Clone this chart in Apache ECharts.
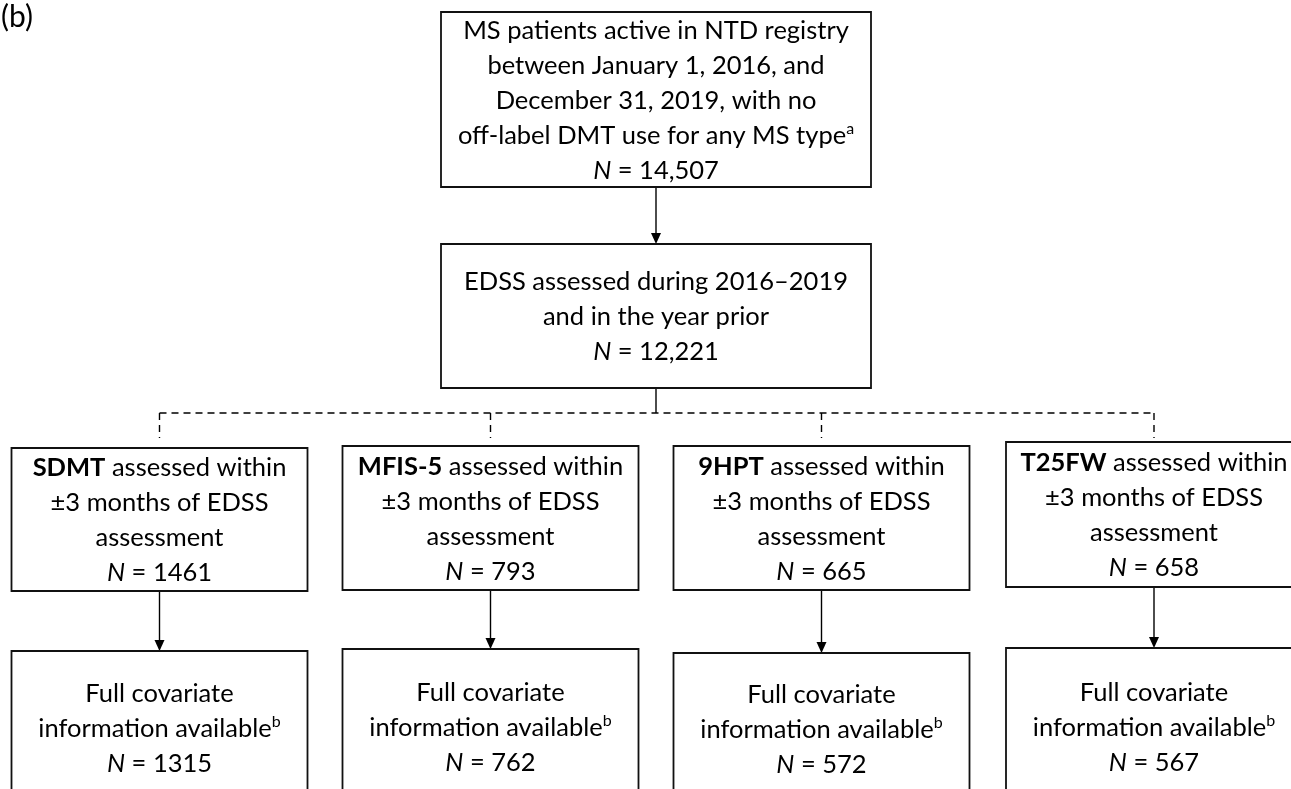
<!DOCTYPE html>
<html>
<head>
<meta charset="utf-8">
<title>Study flow chart (b)</title>
<script src="https://cdn.jsdelivr.net/npm/echarts@6/dist/echarts.min.js"></script>
<style>
  html, body { margin: 0; padding: 0; background: #fff; }
  #main { width: 1291px; height: 789px; }
</style>
</head>
<body>
<div id="main"></div>
<script>
// values
let stepTexts = [
  "MS patients active in NTD registry\nbetween January 1, 2016, and\nDecember 31, 2019, with no\noff-label DMT use for any MS type{sup|a}",
  "EDSS assessed during 2016–2019\nand in the year prior",
];
let stepCounts = [14507, 12221];
let measures = ["SDMT", "MFIS-5", "9HPT", "T25FW"];
let assessedCounts = [1461, 793, 665, 658];
let covariateCounts = [1315, 762, 572, 567];

// layout, in the pixel space of the figure
let W = 1291, H = 789;
let FONT = "Lato, 'Open Sans', sans-serif";
let FS = 25.5;
let LH = 35;
let mainX = 656;
let mainBox = { x0: 441, x1: 871 };
let stepY = [[12, 187], [244, 388]];
let splitY = 413;
let colX = [159.5, 490.5, 821.5, 1154];
let halfW = 148;
let midTop = [448, 446, 446, 442];
let midBottom = [591, 590, 590, 587];
let lowTop = [651, 649, 653, 648];
let lowBottom = 805;

let fmt = (n) => n.toLocaleString("en-US");

// boxes
let boxes = [];
stepTexts.forEach((t, i) => {
  boxes.push({
    x0: mainBox.x0, x1: mainBox.x1, y0: stepY[i][0], y1: stepY[i][1],
    text: t + "\n{i|N} = " + fmt(stepCounts[i]),
  });
});
measures.forEach((m, i) => {
  boxes.push({
    x0: colX[i] - halfW, x1: colX[i] + halfW, y0: midTop[i], y1: midBottom[i],
    text: "{b|" + m + "} assessed within\n±3 months of EDSS\nassessment\n{i|N} = " + assessedCounts[i],
  });
  boxes.push({
    x0: colX[i] - halfW, x1: colX[i] + halfW, y0: lowTop[i], y1: lowBottom,
    text: "Full covariate\ninformation available{sup|b}\n{i|N} = " + covariateCounts[i],
  });
});

// connectors
let segments = [];
segments.push({ x0: mainX, y0: stepY[0][1], x1: mainX, y1: stepY[1][0], arrow: true });
segments.push({ x0: mainX, y0: stepY[1][1], x1: mainX, y1: splitY });
segments.push({ x0: colX[0], y0: splitY, x1: colX[3], y1: splitY, dash: true });
colX.forEach((x, i) => {
  segments.push({ x0: x, y0: splitY, x1: x, y1: splitY + 25, dash: true });
  segments.push({ x0: x, y0: midBottom[i], x1: x, y1: lowTop[i], arrow: true });
});

let base = { fontSize: FS, fontFamily: FONT, lineHeight: LH, fill: "#000" };
let rich = {
  b: Object.assign({}, base, { fontWeight: "bold" }),
  i: Object.assign({}, base, { fontStyle: "italic" }),
  sup: Object.assign({}, base, { fontSize: 16, padding: [0, 0, 14, 0] }),
};

let myChart = echarts.init(document.getElementById("main"), null, { renderer: "canvas" });

let option = {
  animation: false,
  backgroundColor: "#fff",
  title: {
    text: "(b)",
    left: 1,
    top: 2,
    padding: 0,
    textStyle: { fontSize: 30, fontWeight: "normal", fontFamily: FONT, color: "#000" },
  },
  grid: { left: 0, right: 0, top: 0, bottom: 0 },
  xAxis: { type: "value", min: 0, max: W, show: false },
  yAxis: { type: "value", min: 0, max: H, inverse: true, show: false },
  series: [
    {
      type: "custom",
      name: "links",
      coordinateSystem: "cartesian2d",
      silent: true,
      data: segments.map((s) => [s.x0, s.y0, s.x1, s.y1]),
      encode: { x: [0, 2], y: [1, 3] },
      renderItem: (params, api) => {
        let s = segments[params.dataIndex];
        let a = api.coord([s.x0, s.y0]);
        let b = api.coord([s.x1, s.y1]);
        let kids = [
          {
            type: "line",
            shape: { x1: a[0], y1: a[1], x2: b[0], y2: s.arrow ? b[1] - 8 : b[1] },
            style: { stroke: "#000", lineWidth: 1.4, lineDash: s.dash ? [7, 5] : null },
          },
        ];
        if (s.arrow) {
          kids.push({
            type: "polygon",
            shape: { points: [[b[0] - 5, b[1] - 11], [b[0] + 5, b[1] - 11], [b[0], b[1]]] },
            style: { fill: "#000" },
          });
        }
        return { type: "group", children: kids };
      },
    },
    {
      type: "custom",
      name: "boxes",
      coordinateSystem: "cartesian2d",
      silent: true,
      data: boxes.map((bx) => [bx.x0, bx.y0, bx.x1, bx.y1]),
      encode: { x: [0, 2], y: [1, 3] },
      renderItem: (params, api) => {
        let bx = boxes[params.dataIndex];
        let p0 = api.coord([bx.x0, bx.y0]);
        let p1 = api.coord([bx.x1, bx.y1]);
        return {
          type: "group",
          children: [
            {
              type: "rect",
              shape: { x: p0[0], y: p0[1], width: p1[0] - p0[0], height: p1[1] - p0[1] },
              style: { fill: "#fff", stroke: "#111", lineWidth: 1.8 },
            },
            {
              type: "text",
              style: Object.assign({}, base, {
                text: bx.text,
                x: (p0[0] + p1[0]) / 2,
                y: (p0[1] + p1[1]) / 2 + 1,
                align: "center",
                verticalAlign: "middle",
                rich: rich,
              }),
            },
          ],
        };
      },
    },
  ],
};

myChart.setOption(option);
</script>
</body>
</html>
